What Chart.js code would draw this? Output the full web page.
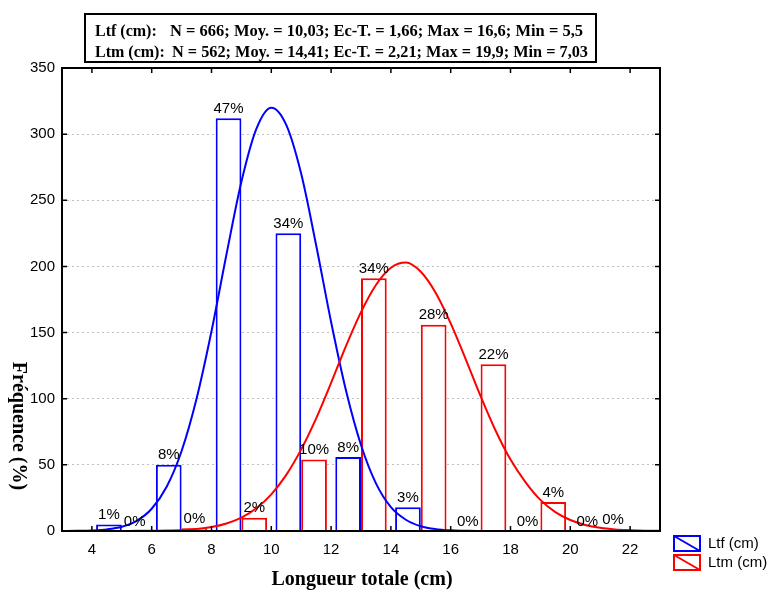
<!DOCTYPE html>
<html>
<head>
<meta charset="utf-8">
<title>Longueur totale</title>
<script src="https://cdn.jsdelivr.net/npm/chart.js"></script>
<style>
  body { margin: 0; background: #fff; }
</style>
</head>
<body>
<canvas id="chart" width="768" height="592"></canvas>
<script>
// bins of 2 cm, centred on odd values
const binCenters = [5, 7, 9, 11, 13, 15, 17, 19, 21];
const ltfCounts = [5, 50, 312, 225, 56, 18, 0, 0, 0];
const ltmCounts = [0, 2, 10, 54, 191, 156, 126, 22, 1];
const ltfPct = ['1%', '8%', '47%', '34%', '8%', '3%', '0%', '0%', '0%'];
const ltmPct = ['0%', '0%', '2%', '10%', '34%', '28%', '22%', '4%', '0%'];

// fitted curves, read every 0.5 cm
const curveX = [3, 3.5, 4, 4.5, 5, 5.5, 6, 6.5, 7, 7.5, 8, 8.5, 9, 9.5, 10, 10.5, 11, 11.5, 12, 12.5,
  13, 13.5, 14, 14.5, 15, 15.5, 16, 16.5, 17, 17.5, 18, 18.5, 19, 19.5, 20, 20.5, 21, 21.5, 22, 22.5, 23];
const ltfCurve = [0, 0.1, 0.4, 1.2, 3.2, 7.7, 16.8, 33.4, 60.5, 100, 151, 209, 264, 304, 320, 307, 270, 216, 158, 106,
  65, 36, 18, 8.5, 3.6, 1.4, 0.5, 0.2, 0, 0, 0, 0, 0, 0, 0, 0, 0, 0, 0, 0, 0];
const ltmCurve = [0, 0, 0, 0, 0, 0.1, 0.1, 0.3, 0.7, 1.5, 3, 5.7, 10.1, 17.2, 27.7, 42.4, 61.7, 85.2, 112, 140,
  165.5, 186, 199, 203, 196, 180, 157, 130, 102, 76, 54, 37, 23.5, 14.3, 8.3, 4.6, 2.4, 1.2, 0.6, 0.2, 0.1];

const xTicks = [4, 6, 8, 10, 12, 14, 16, 18, 20, 22];
const yTicks = [0, 50, 100, 150, 200, 250, 300, 350];

const statsLines = [
  ['Ltf (cm):', 'N = 666; Moy. = 10,03; Ec-T. = 1,66; Max = 16,6; Min = 5,5'],
  ['Ltm (cm):', 'N = 562; Moy. = 14,41; Ec-T. = 2,21; Max = 19,9; Min = 7,03']
];
const legendItems = [['Ltf (cm)', '#0000ff'], ['Ltm (cm)', '#ff0000']];

const SANS = '"Liberation Sans", Arial, sans-serif';
const SERIF = '"Liberation Serif", "Times New Roman", serif';

const pts = (xs, ys) => xs.map((v, i) => ({ x: v, y: ys[i] }));

// text stretched to a given width
function fitText(ctx, txt, x, yb, w) {
  const k = w / ctx.measureText(txt).width;
  ctx.save();
  ctx.translate(x, yb);
  ctx.scale(k, 1);
  ctx.fillText(txt, 0, 0);
  ctx.restore();
}

const decor = {
  id: 'decor',
  afterDatasetsDraw(chart) {
    const { ctx, chartArea: a, scales: { x, y } } = chart;
    ctx.save();
    // percentage labels
    ctx.font = '15px ' + SANS;
    ctx.fillStyle = '#000';
    ctx.textAlign = 'center';
    ctx.textBaseline = 'bottom';
    [[0, ltfPct], [1, ltmPct]].forEach(([i, labels]) => {
      chart.getDatasetMeta(i).data.forEach((bar, j) => ctx.fillText(labels[j], bar.x, bar.y - 2));
    });
    // frame + inward ticks
    ctx.strokeStyle = '#000';
    ctx.lineWidth = 2;
    ctx.strokeRect(a.left, a.top, a.right - a.left, a.bottom - a.top);
    ctx.lineWidth = 1.5;
    ctx.beginPath();
    xTicks.forEach(v => {
      const px = x.getPixelForValue(v);
      ctx.moveTo(px, a.bottom); ctx.lineTo(px, a.bottom - 5);
      ctx.moveTo(px, a.top); ctx.lineTo(px, a.top + 5);
    });
    yTicks.forEach(v => {
      const py = y.getPixelForValue(v);
      ctx.moveTo(a.left, py); ctx.lineTo(a.left + 5, py);
      ctx.moveTo(a.right, py); ctx.lineTo(a.right - 5, py);
    });
    ctx.stroke();
    ctx.restore();
  },
  afterDraw(chart) {
    const { ctx } = chart;
    ctx.save();
    ctx.fillStyle = '#000';
    // stats box
    ctx.strokeStyle = '#000';
    ctx.lineWidth = 2;
    ctx.strokeRect(85, 14, 511, 48);
    ctx.font = 'bold 16px ' + SERIF;
    ctx.textBaseline = 'alphabetic';
    ctx.textAlign = 'left';
    ctx.fillText(statsLines[0][0], 95, 36);
    fitText(ctx, statsLines[0][1], 170, 36, 413);
    ctx.fillText(statsLines[1][0], 95, 57);
    fitText(ctx, statsLines[1][1], 172, 57, 416);
    // axis titles
    ctx.font = 'bold 20px ' + SERIF;
    ctx.textAlign = 'center';
    ctx.textBaseline = 'middle';
    ctx.fillText('Longueur totale (cm)', 362, 580);
    ctx.save();
    ctx.translate(18, 426);
    ctx.rotate(Math.PI / 2);
    ctx.fillText('Fréquence (%)', 0, 0);
    ctx.restore();
    // legend
    ctx.font = '15px ' + SANS;
    ctx.textAlign = 'left';
    legendItems.forEach(([label, col], i) => {
      const top = 536 + i * 19;
      ctx.strokeStyle = col;
      ctx.lineWidth = 2;
      ctx.strokeRect(674, top, 26, 15);
      ctx.beginPath();
      ctx.moveTo(674, top);
      ctx.lineTo(700, top + 15);
      ctx.stroke();
      ctx.fillText(label, 708, top + 8);
    });
    ctx.restore();
  }
};

new Chart(document.getElementById('chart'), {
  type: 'bar',
  data: {
    datasets: [
      { label: 'Ltf (cm)', data: pts(binCenters, ltfCounts), backgroundColor: '#ffffff', borderColor: '#0000ff',
        borderWidth: 2, borderSkipped: 'bottom', categoryPercentage: 0.86, barPercentage: 1, order: 2 },
      { label: 'Ltm (cm)', data: pts(binCenters, ltmCounts), backgroundColor: '#ffffff', borderColor: '#ff0000',
        borderWidth: 2, borderSkipped: 'bottom', categoryPercentage: 0.86, barPercentage: 1, order: 2 },
      { type: 'line', data: pts(curveX, ltfCurve), borderColor: '#0000ff', borderWidth: 2, pointRadius: 0,
        cubicInterpolationMode: 'monotone', fill: false, order: 1 },
      { type: 'line', data: pts(curveX, ltmCurve), borderColor: '#ff0000', borderWidth: 2, pointRadius: 0,
        cubicInterpolationMode: 'monotone', fill: false, order: 0 }
    ]
  },
  options: {
    responsive: false,
    animation: false,
    layout: { padding: { left: 0, top: 68, right: 108, bottom: 0 } },
    plugins: { legend: { display: false }, tooltip: { enabled: false } },
    scales: {
      x: {
        type: 'linear', min: 3, max: 23, offset: false,
        afterBuildTicks: s => { s.ticks = xTicks.map(v => ({ value: v })); },
        afterFit: s => { s.height = 61; },
        grid: { display: false, drawTicks: false },
        border: { display: false },
        ticks: { color: '#000', padding: 10, font: { family: SANS, size: 15 } }
      },
      y: {
        min: 0, max: 350,
        afterBuildTicks: s => { s.ticks = yTicks.map(v => ({ value: v })); },
        afterFit: s => { s.width = 62; },
        grid: { color: '#c0c0c0', lineWidth: 1, drawTicks: false },
        border: { display: false, dash: [2, 3] },
        ticks: { color: '#000', padding: 7, font: { family: SANS, size: 15 } }
      }
    }
  },
  plugins: [decor]
});
</script>
</body>
</html>
